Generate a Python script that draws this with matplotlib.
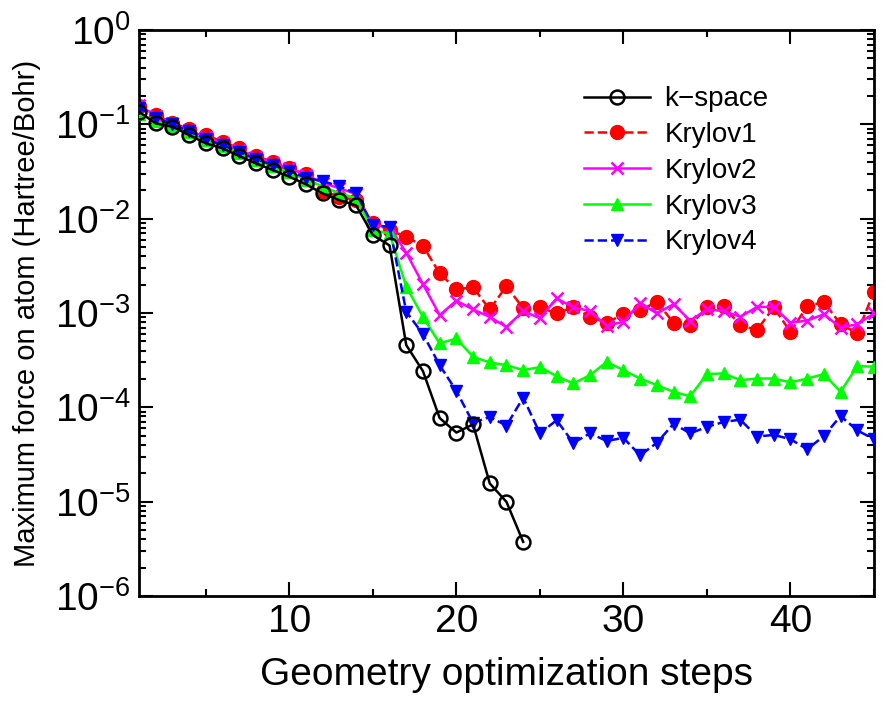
import numpy as np
import matplotlib
matplotlib.use("Agg")
import matplotlib.pyplot as plt
from matplotlib.ticker import MultipleLocator, LogLocator, NullFormatter

plt.rcParams['font.family'] = ['Liberation Sans', 'DejaVu Sans']
plt.rcParams['mathtext.fontset'] = 'custom'
plt.rcParams['mathtext.rm'] = 'Liberation Sans'

# geometry optimization steps
steps = np.arange(1, 46)

# maximum force on atom (Hartree/Bohr)
kspace = [0.136, 0.1025, 0.0944, 0.0770, 0.0629, 0.0557, 0.0461, 0.0386, 0.0328, 0.0278,
          0.0231, 0.0185, 0.0157, 0.0138, 0.0067, 0.0052, 4.57e-4, 2.42e-4, 7.7e-5, 5.4e-5,
          6.6e-5, 1.56e-5, 9.95e-6, 3.75e-6]

krylov1 = [0.158, 0.1255, 0.104, 0.0885, 0.077, 0.0654, 0.0557, 0.0461, 0.0401, 0.0347,
           0.0295, 0.0196, 0.0171, 0.0157, 0.0089, 0.0076, 0.0064, 0.00516, 0.00263, 0.00178,
           0.00187, 0.00109, 0.00193, 0.00112, 0.00115, 0.00099, 0.00115, 0.00091, 0.00079, 0.00097,
           0.00107, 0.00131, 0.00079, 0.00074, 0.00115, 0.00118, 0.00074, 0.00066, 0.00115, 0.00063,
           0.00118, 0.00131, 0.00076, 0.00061, 0.00168]

krylov2 = [0.162, 0.122, 0.1025, 0.087, 0.0728, 0.063, 0.0534, 0.0454, 0.0392, 0.0341,
           0.029, 0.024, 0.021, 0.0182, 0.0085, 0.0082, 0.00435, 0.00202, 0.00095, 0.00135,
           0.00109, 0.00091, 0.00071, 0.00105, 0.00088, 0.00143, 0.00115, 0.00105, 0.00073, 0.00081,
           0.00128, 0.00099, 0.00124, 0.00083, 0.00109, 0.00105, 0.00091, 0.00116, 0.00116, 0.00079,
           0.00083, 0.00097, 0.00070, 0.00076, 0.00099]

krylov3 = [0.13, 0.108, 0.097, 0.082, 0.068, 0.059, 0.05, 0.042, 0.036, 0.031,
           0.026, 0.022, 0.0185, 0.0165, 0.0075, 0.0070, 0.0019, 0.00091, 4.76e-4, 5.37e-4,
           3.43e-4, 2.99e-4, 2.8e-4, 2.48e-4, 2.67e-4, 2.14e-4, 1.79e-4, 2.19e-4, 3.03e-4, 2.48e-4,
           2.02e-4, 1.72e-4, 1.46e-4, 1.31e-4, 2.25e-4, 2.29e-4, 1.94e-4, 2.02e-4, 2.02e-4, 1.84e-4,
           2.02e-4, 2.25e-4, 1.46e-4, 2.73e-4, 2.7e-4]

krylov4 = [0.15, 0.118, 0.1, 0.084, 0.07, 0.06, 0.051, 0.043, 0.037, 0.032,
           0.027, 0.025, 0.022, 0.0185, 0.0085, 0.0082, 0.00103, 5.97e-4, 2.8e-4, 1.49e-4,
           6.85e-5, 7.9e-5, 6.4e-5, 1.27e-4, 5.3e-5, 7.3e-5, 4.2e-5, 5.3e-5, 4.4e-5, 4.75e-5,
           3.1e-5, 4.2e-5, 6.7e-5, 5.3e-5, 6.2e-5, 7.0e-5, 7.4e-5, 4.9e-5, 5.1e-5, 4.6e-5,
           3.6e-5, 4.95e-5, 8.1e-5, 5.7e-5, 4.6e-5]

fig = plt.figure(figsize=(8.87, 7.04), dpi=100)
ax = fig.add_axes([0.1567, 0.1534, 0.8286, 0.8040])

lw = 1.8
ax.plot(steps[:len(kspace)], kspace, '-', color='black', lw=lw, marker='o', ms=10,
        mfc='none', mec='black', mew=1.8, label='k\u2212space', zorder=5)
ax.plot(steps, krylov1, '--', color='red', lw=lw, marker='o', ms=10, mec='red',
        mfc='red', label='Krylov1', zorder=2)
ax.plot(steps, krylov2, '-', color='magenta', lw=lw, marker='x', ms=9, mew=1.8,
        label='Krylov2', zorder=3)
ax.plot(steps, krylov3, '-', color='#00ff00', lw=lw, marker='^', ms=9,
        label='Krylov3', zorder=4)
ax.plot(steps, krylov4, '--', color='blue', lw=lw, marker='v', ms=9,
        label='Krylov4', zorder=4)

ax.set_yscale('log')
ax.set_xlim(1, 45)
ax.set_ylim(1e-6, 1)
ax.xaxis.set_major_locator(MultipleLocator(10))
ax.xaxis.set_minor_locator(MultipleLocator(5))
ax.yaxis.set_major_locator(LogLocator(base=10, numticks=10))
ax.yaxis.set_minor_locator(LogLocator(base=10, subs=np.arange(2, 10), numticks=20))
ax.yaxis.set_minor_formatter(NullFormatter())

ax.tick_params(which='both', direction='in', top=True, right=True, width=1.5)
ax.tick_params(which='major', length=10, labelsize=28, pad=6)
ax.tick_params(which='minor', length=5)
for s in ax.spines.values():
    s.set_linewidth(2)

ax.set_xlabel('Geometry optimization steps', fontsize=28, labelpad=12)
ax.set_ylabel('Maximum force on atom (Hartree/Bohr)', fontsize=21, labelpad=10)

ax.legend(loc='upper left', bbox_to_anchor=(0.59, 0.92), frameon=False, fontsize=20,
          handlelength=2.4, handletextpad=0.5, labelspacing=0.35, borderaxespad=0)

fig.savefig('out.png', dpi=100)
